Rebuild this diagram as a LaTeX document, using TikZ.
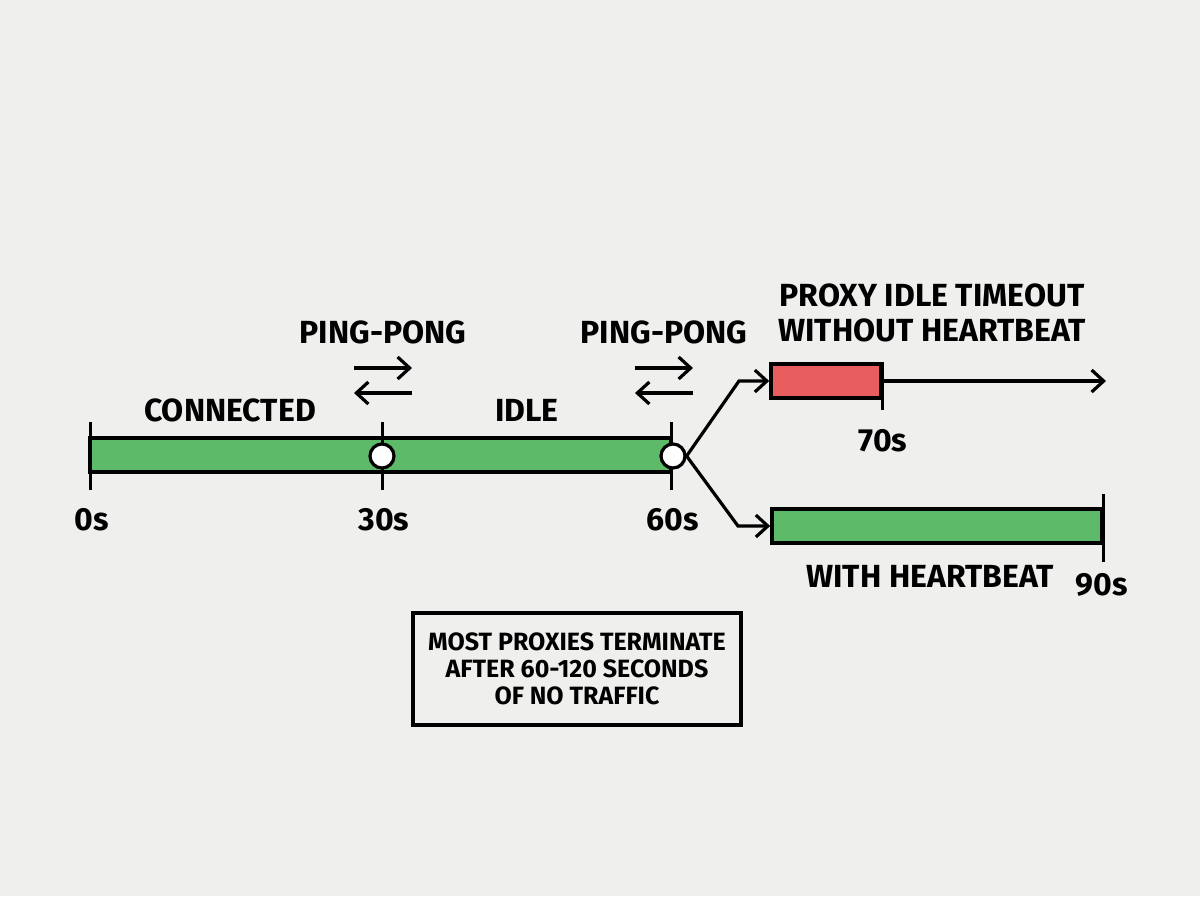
\documentclass[tikz,border=0pt]{standalone}
\usepackage{fontspec}
\setmainfont{Fira Sans}
\usetikzlibrary{arrows.meta}

\definecolor{paper}{HTML}{EFEFED}
\definecolor{barGreen}{HTML}{5DBA68}
\definecolor{barRed}{HTML}{E85D5D}

\tikzset{
  bar/.style={draw=black, line width=1.8pt},
  tickline/.style={line width=1.5pt},
  lbl/.style={font=\bfseries\fontsize{16}{17.5}\selectfont, inner sep=0pt, align=center},
  dot/.style={circle, draw=black, fill=white, line width=1.6pt, minimum size=12pt, inner sep=0pt},
  arr/.style={-{Straight Barb[length=6pt,width=11pt]}, line width=1.6pt},
  note/.style={draw=black, line width=1.6pt, fill=paper, minimum width=164pt, minimum height=56pt,
    font=\bfseries\fontsize{12.5}{13.5}\selectfont, align=center}
}

\begin{document}
\begin{tikzpicture}[x=0.5pt,y=-0.5pt]
  \fill[paper] (0,0) rectangle (1200,896);
  \useasboundingbox (0,0) rectangle (1200,896);

  % main timeline, 0s to 60s
  \draw[bar, fill=barGreen] (90,438) rectangle (671,472);
  \foreach \x/\t in {90/0s,382/30s,671/60s} {%
    \draw[tickline] (\x,422) -- (\x,490);
    \node[lbl] (lab\t) at (\x+2,520) {\t};
  }
  \node[dot] (p30) at (382,456) {};
  \node[dot] (p60) at (673,456) {};

  \node[lbl] (connected) at (230,410) {CONNECTED};
  \node[lbl] (idle) at (527,410) {IDLE};

  % ping-pong marks
  \foreach \x/\n in {383/1,664/2} {%
    \node[lbl] (ping\n) at (\x,332) {PING-PONG};
    \draw[arr] (\x-29,368) -- (\x+29,368);
    \draw[arr] (\x+29,393) -- (\x-29,393);
  }

  % without heartbeat
  \node[bar, fill=barRed, minimum width=55pt, minimum height=17pt, inner sep=0pt] (dead) at (826,381) {};
  \coordinate (up) at (739,381);
  \coordinate (away) at (1106,381);
  \draw[arr] (p60.east) -- (up) -- (dead.west);
  \draw[arr] (dead.east) -- (away);
  \draw[tickline] (dead.north east) -- ++(0,48) node[lbl, below=9pt] (lab70s) {70s};
  \node[lbl] (timeout) at (932,313) {PROXY IDLE TIMEOUT\\WITHOUT HEARTBEAT};

  % with heartbeat
  \node[bar, fill=barGreen, minimum width=165pt, minimum height=17pt, inner sep=0pt] (alive) at (937,526) {};
  \coordinate (down) at (738,526);
  \draw[arr] (p60.east) -- (down) -- (alive.west);
  \draw[tickline] (alive.east) ++(0,-32) -- ++(0,68);
  \node[lbl] (lab90s) at (1102,585) {90s};
  \node[lbl] (heartbeat) at (930,576) {WITH HEARTBEAT};

  \node[note] (remark) at (577,669) {MOST PROXIES TERMINATE\\AFTER 60-120 SECONDS\\OF NO TRAFFIC};
\end{tikzpicture}
\end{document}
